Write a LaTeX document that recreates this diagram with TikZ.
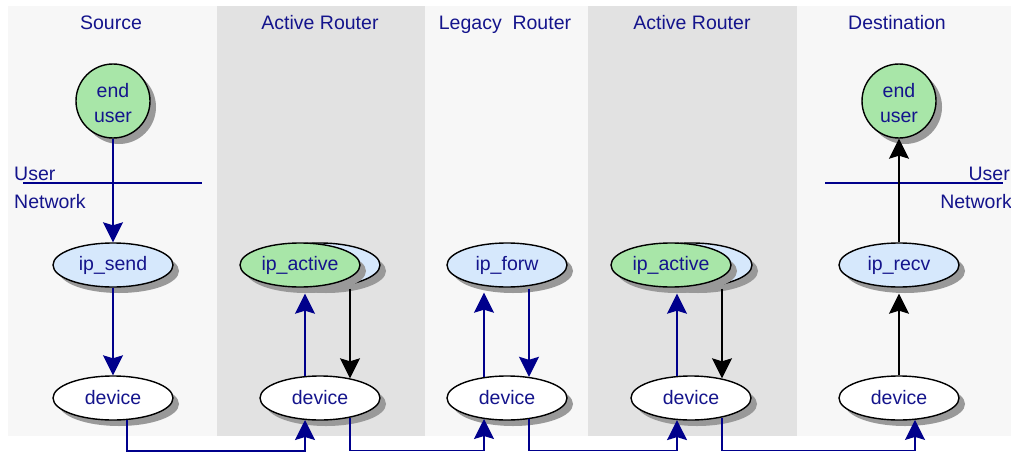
\documentclass[tikz,border=0pt]{standalone}
\usepackage{fontspec}
\setmainfont{Liberation Sans}
\usetikzlibrary{shapes.geometric,arrows.meta,shadows}
\definecolor{txt}{RGB}{20,20,140}
\definecolor{ln}{RGB}{0,0,140}
\definecolor{panL}{RGB}{247,247,247}
\definecolor{panD}{RGB}{226,226,226}
\definecolor{grn}{RGB}{168,230,168}
\definecolor{lblue}{RGB}{214,232,252}
\definecolor{shd}{RGB}{153,153,153}
\begin{document}
\begin{tikzpicture}[x=1pt,y=-1pt,
  every node/.style={font=\fontsize{19.5}{25}\selectfont, text=txt},
  shad/.style={drop shadow={shadow xshift=6pt,shadow yshift=-6pt,fill=shd,opacity=1}},
  ell/.style={ellipse, draw=black, line width=1.4pt, minimum width=120pt, minimum height=44pt, inner sep=0pt, shad},
  circ/.style={circle, draw=black, line width=1.4pt, minimum size=74pt, inner sep=0pt, fill=grn, align=center, shad},
  barr/.style={draw=ln, line width=1.4pt, -{Stealth[length=20pt,width=20pt,inset=3pt]}},
  karr/.style={draw=black, line width=1.4pt, -{Stealth[length=20pt,width=20pt,inset=3pt]}},
  title/.style={anchor=base},
  lab/.style={inner sep=0pt},
  sep/.style={draw=ln, line width=1.3pt}
  ]
\useasboundingbox (0,0) rectangle (1011,452);
\fill[white] (0,0) rectangle (1011,452);
% panels
\fill[panL] (8,6) rectangle (217,436);
\fill[panD] (217,6) rectangle (425,436);
\fill[panL] (425,6) rectangle (588,436);
\fill[panD] (588,6) rectangle (797,436);
\fill[panL] (797,6) rectangle (1011,436);
% titles
\node[title] (t1) at (111,30) {Source};
\node[title] (t2) at (320,30) {Active Router};
\node[title] (t3) at (505,30) {Legacy\ \ Router};
\node[title] (t4) at (692,30) {Active Router};
\node[title] (t5) at (897,30) {Destination};
% user / network separators
\coordinate (s1a) at (23,183);
\coordinate (s1b) at (202,183);
\coordinate (s2a) at (825,183);
\coordinate (s2b) at (1003,183);
\draw[sep] (s1a) -- (s1b);
\draw[sep] (s2a) -- (s2b);
\node[lab, anchor=base west] (u1) at (14,180) {User};
\node[lab, anchor=base west] (n1) at (14,208) {Network};
\node[lab, anchor=base east] (u2) at (1010,180) {User};
\node[lab, anchor=base east] (n2) at (1012,208) {Network};
% nodes
\node[circ] (eu1) at (113,101) {\rule{0pt}{19pt}end\\user};
\node[ell, fill=lblue] (ipsend) at (113,265) {ip\_send};
\node[ell, fill=white] (dev1) at (113,398) {device};

\node[ell, fill=lblue] (ipa1b) at (320,265) {};
\node[ell, fill=grn] (ipa1) at (300,265) {ip\_active};
\node[ell, fill=white] (dev2) at (320,398) {device};

\node[ell, fill=lblue] (ipf) at (507,265) {ip\_forw};
\node[ell, fill=white] (dev3) at (507,398) {device};

\node[ell, fill=lblue] (ipa2b) at (692,265) {};
\node[ell, fill=grn] (ipa2) at (671,265) {ip\_active};
\node[ell, fill=white] (dev4) at (691,398) {device};

\node[ell, fill=lblue] (iprecv) at (899,265) {ip\_recv};
\node[ell, fill=white] (dev5) at (899,398) {device};
\node[circ] (eu2) at (899,101) {\rule{0pt}{19pt}end\\user};
% vertical connectors
\draw[barr] (eu1) -- (ipsend);
\draw[barr] (ipsend) -- (dev1);

\draw[barr] ([xshift=-15pt,yshift=-0.7pt]dev2.north) -- ([xshift=5pt,yshift=-6pt]ipa1.south);
\draw[karr] ([xshift=30pt,yshift=-1pt]ipa1b.south) -- ([xshift=30pt,yshift=-3pt]dev2.north);

\draw[barr] ([xshift=-23pt,yshift=-1.7pt]dev3.north) -- ([xshift=-23pt,yshift=-5pt]ipf.south);
\draw[barr] ([xshift=22pt,yshift=-1pt]ipf.south) -- ([xshift=22pt,yshift=-1.5pt]dev3.north);

\draw[barr] ([xshift=-14pt,yshift=-0.6pt]dev4.north) -- ([xshift=6pt,yshift=-6pt]ipa2.south);
\draw[karr] ([xshift=30pt,yshift=-1pt]ipa2b.south) -- ([xshift=31pt,yshift=-3pt]dev4.north);

\draw[karr] (dev5.north) -- ([yshift=-6pt]iprecv.south);
\draw[karr] (iprecv) -- (eu2);
% bottom connectors
\draw[barr] ([xshift=14pt,yshift=0.6pt]dev1.south) -- ++(0,31) -| ([xshift=-15pt,yshift=0.7pt]dev2.south);
\draw[barr] ([xshift=30pt,yshift=3pt]dev2.south) -- ++(0,33) -| ([xshift=-23pt,yshift=1.7pt]dev3.south);
\draw[barr] ([xshift=22pt,yshift=1.5pt]dev3.south) -- ++(0,31.5) -| ([xshift=-14pt,yshift=0.6pt]dev4.south);
\draw[barr] ([xshift=31pt,yshift=3.2pt]dev4.south) -- ++(0,33.2) -| ([xshift=16pt,yshift=0.8pt]dev5.south);
\end{tikzpicture}
\end{document}
